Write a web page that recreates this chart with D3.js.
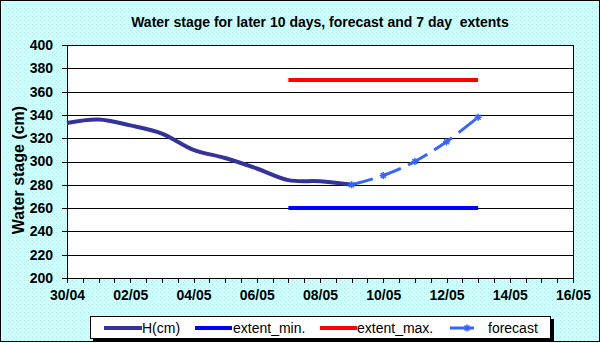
<!DOCTYPE html>
<meta charset="utf-8">
<style type="text/css">
body { margin: 0; }
text { font-family: Arial, "Liberation Sans", sans-serif; }
.grid line { stroke: #000; stroke-width: 1px; shape-rendering: crispEdges; }
.axis path, .axis line { stroke: #000; shape-rendering: crispEdges; }
.axis text { font-size: 14px; font-weight: bold; fill: #000; }
</style>
<body></body>
<script src="https://cdn.jsdelivr.net/npm/d3@7"></script>
<script>

// observed water stage (cm), one value per day
var hDates = ["30/04","01/05","02/05","03/05","04/05","05/05","06/05","07/05","08/05","09/05"];
var hValues = [333, 336, 331, 324, 310, 303, 294, 284, 283, 280];

// forecast
var forecastDates = ["09/05","10/05","11/05","12/05","13/05"];
var forecastValues = [280, 288, 300, 317, 338];

// 7 day extents
var extentDates = ["07/05","13/05"];
var extentMin = [260, 260];
var extentMax = [370, 370];

var xTickLabels = ["30/04","02/05","04/05","06/05","08/05","10/05","12/05","14/05","16/05"];
var yTicks = [200,220,240,260,280,300,320,340,360,380,400];

var title = "Water stage for later 10 days, forecast and 7 day\u00a0 extents";

var W = 600, H = 343;
var margin = {top: 45, left: 67},
    width = 506,
    height = 233;

var parse = function(s) { return d3.timeParse("%d/%m/%Y")(s + "/2011"); };

var x = d3.scaleTime()
    .domain([parse("30/04"), parse("16/05")])
    .range([0, width]);
var y = d3.scaleLinear().domain([200, 400]).range([height, 0]);

var svg = d3.select("body").append("svg")
    .attr("width", W).attr("height", H);

// dotted cyan background
var pat = svg.append("defs").append("pattern")
    .attr("id", "dots").attr("width", 4).attr("height", 4)
    .attr("patternUnits", "userSpaceOnUse");
pat.append("rect").attr("width", 4).attr("height", 4).attr("fill", "#CCFFFF");
pat.append("rect").attr("x", 0).attr("y", 0).attr("width", 1).attr("height", 1).attr("fill", "#B5EDED");
pat.append("rect").attr("x", 2).attr("y", 2).attr("width", 1).attr("height", 1).attr("fill", "#BFF3F3");

svg.append("rect")
    .attr("x", 0.5).attr("y", 0.5)
    .attr("width", W - 1).attr("height", H - 2)
    .attr("fill", "url(#dots)")
    .attr("stroke", "#000");

svg.append("text")
    .attr("x", 320).attr("y", 27)
    .attr("text-anchor", "middle")
    .style("font-size", "14px").style("font-weight", "bold")
    .text(title);

var g = svg.append("g")
    .attr("transform", "translate(" + margin.left + "," + margin.top + ")");

// plot area
g.append("rect")
    .attr("width", width).attr("height", height)
    .attr("fill", "#fff");

// horizontal gridlines
g.append("g").attr("class", "grid")
    .selectAll("line").data(yTicks).enter().append("line")
    .attr("x1", 0).attr("x2", width)
    .attr("y1", function(d) { return Math.round(y(d)) + 0.5; })
    .attr("y2", function(d) { return Math.round(y(d)) + 0.5; });

// right border of the plot
g.append("line")
    .attr("x1", width + 0.5).attr("x2", width + 0.5)
    .attr("y1", 0).attr("y2", height)
    .attr("stroke", "#000");

// y axis
g.append("g")
    .attr("class", "axis")
    .call(d3.axisLeft(y).tickValues(yTicks).tickSize(5).tickPadding(9));

// x axis: half-day ticks, labels every second day
var xMinor = d3.timeHour.every(12).range(x.domain()[0], d3.timeHour.offset(x.domain()[1], 1));
g.append("g")
    .attr("class", "axis")
    .attr("transform", "translate(0," + height + ")")
    .call(d3.axisBottom(x).tickValues(xMinor).tickSize(5).tickFormat(""));
g.append("g")
    .attr("class", "axis")
    .attr("transform", "translate(0," + height + ")")
    .call(d3.axisBottom(x).tickValues(xTickLabels.map(parse)).tickSize(0).tickPadding(12)
        .tickFormat(d3.timeFormat("%d/%m")))
    .select(".domain").remove();

// y axis title
svg.append("text")
    .attr("transform", "translate(24,170) rotate(-90)")
    .attr("text-anchor", "middle")
    .style("font-size", "16px").style("font-weight", "bold")
    .text("Water stage (cm)");

var line = d3.line()
    .x(function(d) { return x(d.date); })
    .y(function(d) { return y(d.value); })
    .curve(d3.curveCatmullRom.alpha(0));

function zip(dates, values) {
    return dates.map(function(s, i) { return {date: parse(s), value: values[i]}; });
}

g.append("path")
    .datum(zip(extentDates, extentMin))
    .attr("d", line).attr("fill", "none")
    .attr("stroke", "#0000FF").attr("stroke-width", 4);

g.append("path")
    .datum(zip(extentDates, extentMax))
    .attr("d", line).attr("fill", "none")
    .attr("stroke", "#FF0000").attr("stroke-width", 4);

g.append("path")
    .datum(zip(hDates, hValues))
    .attr("d", line).attr("fill", "none")
    .attr("stroke", "#333399").attr("stroke-width", 4);

g.append("path")
    .datum(zip(forecastDates, forecastValues))
    .attr("d", line).attr("fill", "none")
    .attr("stroke", "#3366FF").attr("stroke-width", 3)
    .attr("stroke-dasharray", "22,8");

// star markers
function star(sel, cx, cy) {
    var r = 3.5;
    sel.append("path")
        .attr("d", "M" + (cx - r) + "," + cy + "H" + (cx + r) +
                   "M" + cx + "," + (cy - r) + "V" + (cy + r) +
                   "M" + (cx - r + 1) + "," + (cy - r + 1) + "L" + (cx + r - 1) + "," + (cy + r - 1) +
                   "M" + (cx - r + 1) + "," + (cy + r - 1) + "L" + (cx + r - 1) + "," + (cy - r + 1))
        .attr("stroke", "#3366FF").attr("stroke-width", 1.5).attr("fill", "none");
}
zip(forecastDates, forecastValues).forEach(function(d) {
    star(g, x(d.date), y(d.value));
});

// legend
var lg = svg.append("g");
lg.append("rect")
    .attr("x", 93).attr("y", 319).attr("width", 461).attr("height", 22)
    .attr("fill", "#000");
lg.append("rect")
    .attr("x", 90.5).attr("y", 316.5).attr("width", 460).attr("height", 22)
    .attr("fill", "#fff").attr("stroke", "#000");

var legendItems = [
    {name: "H(cm)", color: "#333399", x1: 104, x2: 142, tx: 142},
    {name: "extent_min.", color: "#0000FF", x1: 195, x2: 232, tx: 233},
    {name: "extent_max.", color: "#FF0000", x1: 320, x2: 357, tx: 357},
    {name: "forecast", color: "#3366FF", x1: 450, x2: 474, tx: 488}
];
legendItems.forEach(function(it, i) {
    lg.append("line")
        .attr("x1", it.x1).attr("x2", it.x2)
        .attr("y1", 328).attr("y2", 328)
        .attr("stroke", it.color).attr("stroke-width", i == 3 ? 3 : 4);
    lg.append("text")
        .attr("x", it.tx).attr("y", 333)
        .style("font-size", "14px")
        .text(it.name);
});
star(lg, 467, 328);

</script>
